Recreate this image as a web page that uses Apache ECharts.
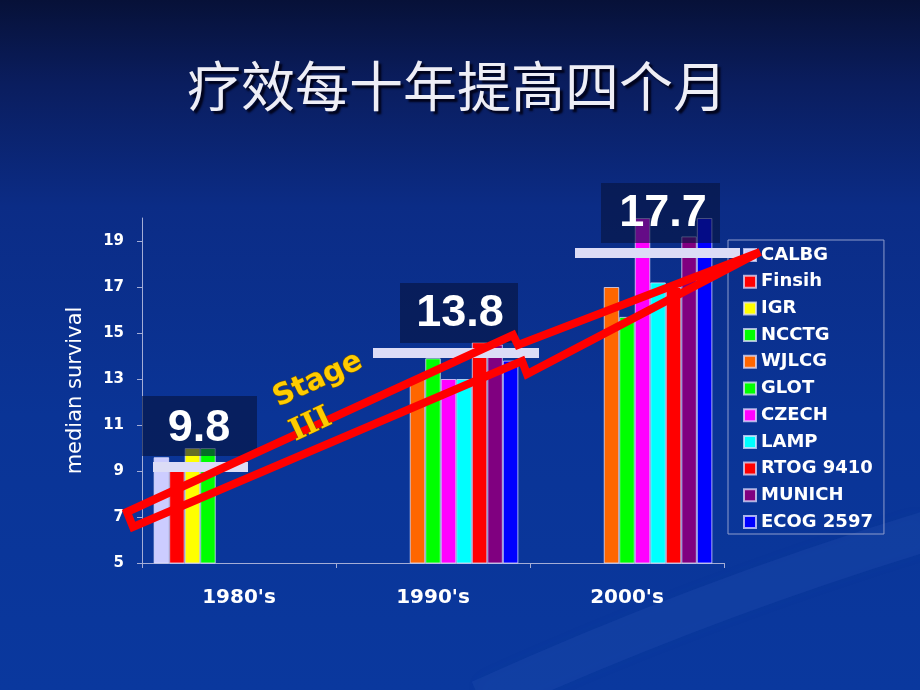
<!DOCTYPE html>
<html><head><meta charset="utf-8">
<script src="https://cdn.jsdelivr.net/npm/echarts@6/dist/echarts.min.js"></script>
<style>html,body{margin:0;padding:0;background:#0a2f8c}#c{width:920px;height:690px}</style>
</head><body><div id="c"></div>
<script>
// ---- data ----
const titleText = '疗效每十年提高四个月';
const yAxisTitle = 'median survival';
const categories = ["1980's", "1990's", "2000's"];
const yTickValues = [5, 7, 9, 11, 13, 15, 17, 19];
const seriesNames = ['CALBG', 'Finsih', 'IGR', 'NCCTG', 'WJLCG', 'GLOT', 'CZECH', 'LAMP', 'RTOG 9410', 'MUNICH', 'ECOG 2597'];
const calbg    = [9.6, null, null];
const finsih   = [9.0, null, null];
const igr      = [10.0, null, null];
const ncctg    = [10.0, null, null];
const wjlcg    = [null, 13.0, 17.0];
const glot     = [null, 13.9, 15.7];
const czech    = [null, 13.0, 20.0];
const lamp     = [null, 13.0, 17.2];
const rtog9410 = [null, 14.6, 17.0];
const munich   = [null, 14.5, 19.2];
const ecog2597 = [null, 13.8, 20.0];
const medianLabels = ['9.8', '13.8', '17.7'];
const stageLabels = ['Stage', 'III'];

// ---- styles ----
const seriesData = [calbg, finsih, igr, ncctg, wjlcg, glot, czech, lamp, rtog9410, munich, ecog2597];
const seriesColors = ['#ccccff', '#ff0000', '#ffff00', '#00ff00', '#ff6600', '#00ff00', '#ff00ff', '#00ffff', '#ff0000', '#800080', '#0000ff'];

const chart = echarts.init(document.getElementById('c'), null, { renderer: 'canvas' });

const axisColor = '#a4add6';
const series = seriesNames.map((n, i) => ({
  name: n,
  type: 'bar',
  data: seriesData[i],
  barGap: '0%',
  barCategoryGap: '12%',
  itemStyle: { color: seriesColors[i], borderColor: 'rgba(225,225,255,0.75)', borderWidth: 1 }
}));

// annotation boxes (decoration)
const boxes = [
  { x: 142, y: 396, w: 115, h: 60, tx: 199, ty: 429 },
  { x: 400, y: 283, w: 118, h: 60, tx: 460, ty: 314 },
  { x: 601, y: 183, w: 119, h: 60, tx: 663, ty: 214 }
];
const whiteBars = [
  { x: 153, y: 462, w: 95, h: 10 },
  { x: 373, y: 348, w: 166, h: 10 },
  { x: 575, y: 248, w: 165, h: 10 }
];

const graphic = [];
graphic.push({
  type: 'bezierCurve', z: 0, silent: true,
  shape: { x1: 480, y1: 700, cpx1: 700, cpy1: 600, x2: 930, y2: 530 },
  style: { stroke: 'rgba(90,130,220,0.09)', lineWidth: 40, fill: null, shadowBlur: 20, shadowColor: 'rgba(90,130,220,0.2)' }
});
graphic.push({
  type: 'text', z: 20, silent: true,
  style: {
    text: titleText, x: 457, y: 86, textAlign: 'center', textVerticalAlign: 'middle',
    fontSize: 54, fontFamily: '"Noto Sans CJK SC"', fontWeight: 'normal', fill: '#eeeef6',
    textShadowColor: 'rgba(0,0,20,0.9)', textShadowOffsetX: 3, textShadowOffsetY: 3, textShadowBlur: 2
  }
});
boxes.forEach((b, i) => {
  graphic.push({
    type: 'rect', z: 10, silent: true,
    shape: { x: b.x, y: b.y, width: b.w, height: b.h },
    style: { fill: 'rgba(6,20,62,0.62)' }
  });
  graphic.push({
    type: 'text', z: 11, silent: true,
    style: {
      text: medianLabels[i], x: b.tx, y: b.ty, textAlign: 'center', textVerticalAlign: 'middle',
      fontSize: 45, fontFamily: '"Liberation Sans", Arial', fontWeight: 'bold', fill: '#ffffff'
    }
  });
});
whiteBars.forEach(b => {
  graphic.push({
    type: 'rect', z: 12, silent: true,
    shape: { x: b.x, y: b.y, width: b.w, height: b.h },
    style: { fill: '#dcdcf6' }
  });
});
graphic.push({
  type: 'polygon', z: 13, silent: true,
  shape: { points: [[127, 512], [513, 335], [518, 345], [760, 252], [527, 374], [522, 361], [133, 527]] },
  style: { fill: null, stroke: '#ff0000', lineWidth: 8, lineJoin: 'miter', miterLimit: 2 }
});
const rot = 25 * Math.PI / 180;
graphic.push({
  type: 'text', z: 14, silent: true, x: 318, y: 380, rotation: rot,
  style: {
    text: stageLabels[0], x: 0, y: 0, textAlign: 'center', textVerticalAlign: 'middle',
    fontSize: 29, fontFamily: '"DejaVu Sans"', fontWeight: 'bold', fill: '#ffcc00',
    stroke: '#7a5a00', lineWidth: 1
  }
});
graphic.push({
  type: 'text', z: 14, silent: true, x: 311, y: 425, rotation: rot,
  style: {
    text: stageLabels[1], x: 0, y: 0, textAlign: 'center', textVerticalAlign: 'middle',
    fontSize: 30, fontFamily: '"DejaVu Serif"', fontWeight: 'bold', fill: '#ffcc00',
    stroke: '#7a5a00', lineWidth: 1
  }
});

const option = {
  animation: false,
  backgroundColor: {
    type: 'linear', x: 0, y: 0, x2: 0, y2: 1,
    colorStops: [
      { offset: 0, color: '#071138' },
      { offset: 0.12, color: '#0a1d5e' },
      { offset: 0.3, color: '#0b2c86' },
      { offset: 0.6, color: '#0a3496' },
      { offset: 1, color: '#0a389e' }
    ]
  },
  grid: { left: 142, right: 196, top: 218, bottom: 127 },
  legend: {
    orient: 'vertical', left: 728, top: 240,
    padding: [6, 11, 3, 15],
    itemWidth: 12, itemHeight: 12, itemGap: 8.7, itemTextGap: 8,
    borderColor: '#8e9ccc', borderWidth: 1,
    icon: 'rect',
    data: seriesNames,
    textStyle: { color: '#ffffff', fontSize: 18, fontWeight: 'bold', fontFamily: '"DejaVu Sans"' }
  },
  xAxis: {
    type: 'category', data: categories,
    axisLine: { lineStyle: { color: axisColor, width: 1 } },
    axisTick: { show: true, length: 5, lineStyle: { color: axisColor } },
    axisLabel: { color: '#ffffff', fontSize: 20, fontWeight: 'bold', fontFamily: '"DejaVu Sans"', margin: 25 },
    splitLine: { show: false }
  },
  yAxis: {
    type: 'value', min: 5, max: 20,
    name: yAxisTitle, nameLocation: 'middle', nameRotate: 90, nameGap: 56,
    nameTextStyle: { color: '#ffffff', fontSize: 21, fontFamily: '"DejaVu Sans"' },
    axisLine: { show: true, lineStyle: { color: axisColor, width: 1 } },
    axisTick: { show: true, length: 5, lineStyle: { color: axisColor }, customValues: yTickValues },
    axisLabel: { color: '#ffffff', fontSize: 15, fontWeight: 'bold', fontFamily: '"DejaVu Sans"', margin: 18, customValues: yTickValues },
    splitLine: { show: false }
  },
  series: series,
  graphic: graphic
};
chart.setOption(option);
</script>
</body></html>
